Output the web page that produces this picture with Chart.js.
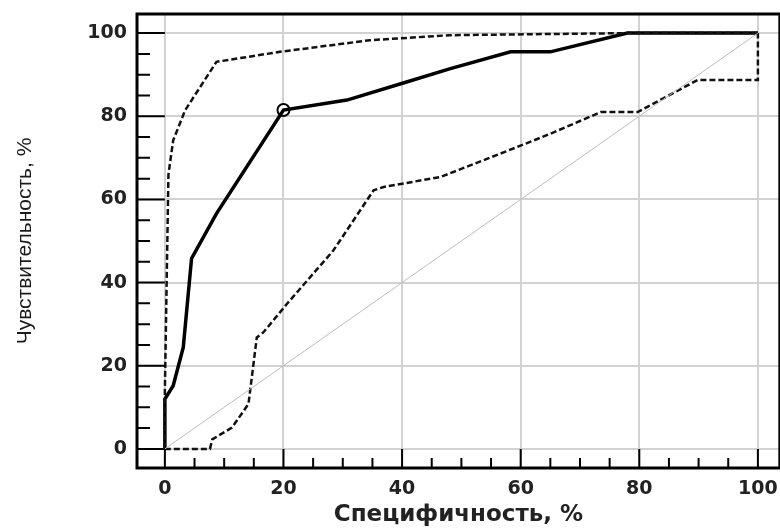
<!DOCTYPE html>
<html>
<head>
<meta charset="utf-8">
<script src="https://cdn.jsdelivr.net/npm/chart.js@4/dist/chart.umd.min.js"></script>
<style>
  body { margin: 0; background: #fff; overflow: hidden; }
  /* a bit wider than the window: the right frame edge sits at the window border */
  #wrap { width: 788px; height: 529px; position: relative; }
</style>
</head>
<body>
<div id="wrap"><canvas id="roc"></canvas></div>
<script>
// ROC curve (solid)
const ROC_X = [0, 0, 1.4, 3.1, 4.5, 8.7, 20, 30.7, 40.2, 48, 58.3, 65, 78, 100];
const ROC_Y = [0, 12, 15.2, 24.4, 45.8, 56.6, 81.5, 83.9, 88, 91.4, 95.5, 95.5, 100, 100];

// upper confidence bound (dashed)
const UP_X = [0, 0, 0.6, 1.4, 3.4, 8.7, 19.4, 34.6, 48, 78, 100];
const UP_Y = [0, 14, 66, 74.2, 81.4, 93.1, 95.5, 98.3, 99.5, 100, 100];

// lower confidence bound (dashed)
const LO_X = [0, 7.6, 8, 11.3, 14.1, 15.5, 16.6, 20.6, 28.4, 35.2, 36.9, 46.5, 59.4, 65, 73.5, 79.7, 89.8, 100, 100];
const LO_Y = [0, 0, 2.3, 5.1, 10.8, 26.8, 28, 34.9, 47.7, 62.2, 63, 65.4, 72.6, 75.8, 81, 81, 88.7, 88.7, 100];

// reference diagonal
const DIAG_X = [0, 100];
const DIAG_Y = [0, 100];

// cut-off point
const CUT_X = [20];
const CUT_Y = [81.5];

const TICKS = [0, 20, 40, 60, 80, 100];
const MINOR_STEP = 5;

const toPts = (xs, ys) => xs.map((x, i) => ({ x: x, y: ys[i] }));

// small ticks inside the frame + black frame around the plot
const frameTicks = {
    id: 'frameTicks',
    afterDraw(chart) {
        const { ctx, chartArea: a, scales: { x, y } } = chart;
        ctx.save();
        ctx.strokeStyle = '#000';
        ctx.lineWidth = 2;
        const x0 = x.getPixelForValue(0);
        const y0 = y.getPixelForValue(0);
        for (let v = 0; v <= 100; v += MINOR_STEP) {
            const major = v % 20 === 0;
            const px = x.getPixelForValue(v);
            const py = y.getPixelForValue(v);
            ctx.beginPath();
            ctx.moveTo(px, a.bottom);
            ctx.lineTo(px, major ? y0 : a.bottom - 10);
            ctx.moveTo(a.left, py);
            ctx.lineTo(major ? x0 : a.left + 13, py);
            ctx.stroke();
        }
        ctx.lineWidth = 3;
        ctx.strokeRect(a.left, a.top, a.width, a.height);
        ctx.restore();
    }
};

const tickFont = { family: 'DejaVu Sans', size: 19, weight: 'bold' };

new Chart(document.getElementById('roc'), {
    type: 'line',
    data: {
        datasets: [
            {
                data: toPts(DIAG_X, DIAG_Y),
                borderColor: '#bdbdbd',
                borderWidth: 1,
                pointRadius: 0
            },
            {
                data: toPts(LO_X, LO_Y),
                borderColor: '#111',
                borderWidth: 2.5,
                borderDash: [6, 3],
                pointRadius: 0
            },
            {
                data: toPts(UP_X, UP_Y),
                borderColor: '#111',
                borderWidth: 2.5,
                borderDash: [6, 3],
                pointRadius: 0
            },
            {
                data: toPts(ROC_X, ROC_Y),
                borderColor: '#000',
                borderWidth: 3.5,
                pointRadius: 0
            },
            {
                data: toPts(CUT_X, CUT_Y),
                showLine: false,
                pointRadius: 6,
                pointBackgroundColor: '#fff',
                pointBorderColor: '#000',
                pointBorderWidth: 2
            }
        ]
    },
    options: {
        responsive: true,
        maintainAspectRatio: false,
        animation: false,
        layout: { padding: { top: 14, right: 1, left: 0, bottom: 0 } },
        plugins: {
            legend: { display: false },
            tooltip: { enabled: false }
        },
        scales: {
            x: {
                type: 'linear',
                min: -4.7,
                max: 103.7,
                afterBuildTicks: s => { s.ticks = TICKS.map(v => ({ value: v })); },
                afterFit: s => { s.height = 61; },
                grid: { color: '#d2d2d2', lineWidth: 2, drawTicks: false },
                border: { display: false },
                ticks: { font: tickFont, color: '#222', padding: 10 },
                title: {
                    display: true,
                    text: 'Специфичность, %',
                    font: { family: 'DejaVu Sans', size: 23, weight: 'bold' },
                    color: '#222',
                    padding: 0
                }
            },
            y: {
                min: -4.6,
                max: 104.6,
                afterBuildTicks: s => { s.ticks = TICKS.map(v => ({ value: v })); },
                afterFit: s => { s.width = 137; s.paddingTop = 0; s.paddingBottom = 0; },
                grid: { color: '#d2d2d2', lineWidth: 2, drawTicks: false },
                border: { display: false },
                ticks: { font: tickFont, color: '#222', padding: 10 },
                title: {
                    display: true,
                    text: 'Чувствительность, %',
                    font: { family: 'Liberation Sans', size: 21 },
                    color: '#1a1a1a',
                    padding: { top: 13, bottom: 0 }
                }
            }
        }
    },
    plugins: [frameTicks]
});
</script>
</body>
</html>
